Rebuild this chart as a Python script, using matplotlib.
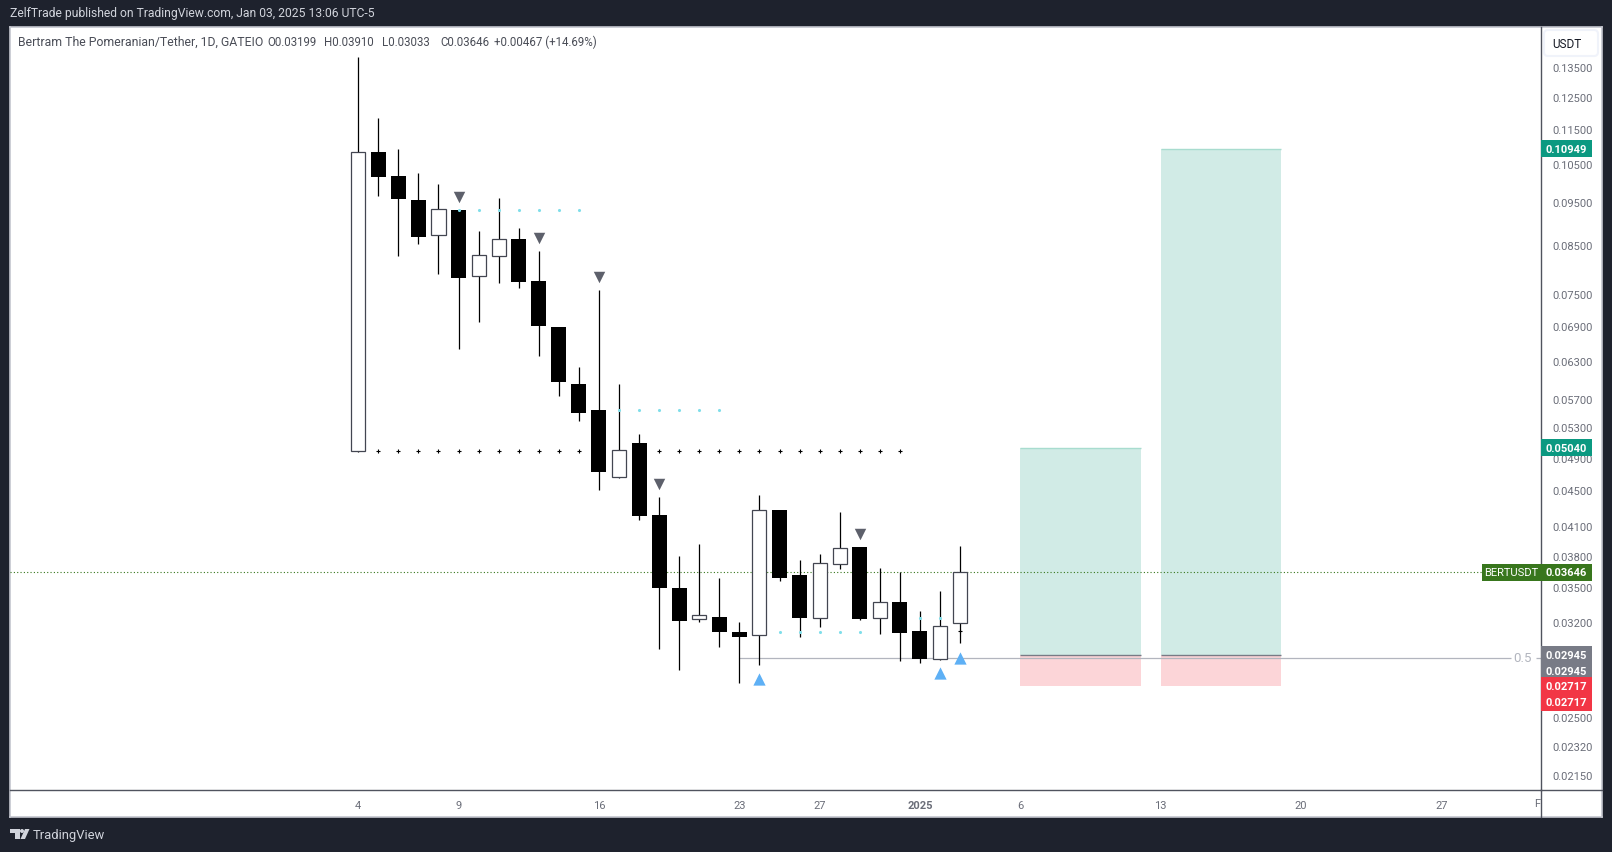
"""
plot.py - BERTUSDT daily candles with position boxes, TradingView style.
Output: out.png
"""
import matplotlib
matplotlib.use("Agg")
import matplotlib.pyplot as plt
from matplotlib.lines import Line2D
from matplotlib.patches import Circle, FancyBboxPatch, Polygon, Rectangle
from matplotlib.ticker import NullLocator
from matplotlib.transforms import IdentityTransform, ScaledTranslation

plt.rcParams.update({
    "font.family": ["Roboto", "DejaVu Sans"],
    "font.size": 8,
})

W, H = 1612, 853

# ── Candles, Dec 4 = day 0 ────────────────────────────────────────────────────
opens = [0.04997, 0.10857, 0.10201, 0.09585, 0.08753, 0.09340, 0.07870, 0.08289,
         0.08663, 0.07767, 0.06894, 0.05946, 0.05558, 0.04671, 0.05102, 0.04233,
         0.03502, 0.03232, 0.03249, 0.03125, 0.03100, 0.04288, 0.03623, 0.03240,
         0.03727, 0.03895, 0.03240, 0.03377, 0.03133, 0.02913, 0.03199]
highs = [0.13890, 0.11857, 0.10940, 0.10280, 0.09992, 0.09340, 0.08845, 0.09635,
         0.08914, 0.08398, 0.06894, 0.06215, 0.07589, 0.05946, 0.05222, 0.04435,
         0.03805, 0.03926, 0.03594, 0.03207, 0.04458, 0.04288, 0.03766, 0.03825,
         0.04266, 0.03895, 0.03689, 0.03651, 0.03299, 0.03475, 0.03910]
lows = [0.04984, 0.09685, 0.08290, 0.08551, 0.07911, 0.06512, 0.06984, 0.07727,
        0.07628, 0.06395, 0.05763, 0.05402, 0.04517, 0.04659, 0.04178, 0.02990,
        0.02831, 0.03207, 0.03005, 0.02737, 0.02868, 0.03567, 0.03084, 0.03165,
        0.03679, 0.03223, 0.03108, 0.02898, 0.02883, 0.02906, 0.03033]
closes = [0.10857, 0.10175, 0.09610, 0.08708, 0.09364, 0.07829, 0.08311, 0.08663,
          0.07747, 0.06912, 0.05977, 0.05515, 0.04732, 0.05010, 0.04222, 0.03502,
          0.03215, 0.03265, 0.03125, 0.03084, 0.04288, 0.03594, 0.03240, 0.03737,
          0.03885, 0.03232, 0.03377, 0.03116, 0.02913, 0.03174, 0.03646]

# ── Indicator marks ───────────────────────────────────────────────────────────
down_days = [5, 9, 12, 15, 25]
down_prices = [0.09660, 0.08685, 0.07850, 0.04587, 0.04029]
up_days = [20, 29, 30]
up_prices = [0.02766, 0.02809, 0.02921]

black_dot_days = list(range(1, 28)) + [30]
black_dot_prices = [0.04997] * 27 + [0.03133]
cyan_dot_days = [5, 6, 7, 8, 9, 10, 11, 13, 14, 15, 16, 17, 18, 21, 22, 23, 24, 25, 28, 29]
cyan_dot_prices = [0.09340] * 7 + [0.05558] * 6 + [0.03125] * 5 + [0.03240] * 2

# ── Position boxes ────────────────────────────────────────────────────────────
box_starts = [33, 40]
box_ends = [39, 46]
box_targets = [0.05040, 0.10949]
box_entry = 0.02945
box_stop = 0.02717
fib_start = 19
fib_price = 0.02921
last_price = 0.03646

# ── Axes labels ───────────────────────────────────────────────────────────────
price_ticks = [0.135, 0.125, 0.115, 0.105, 0.095, 0.085, 0.075, 0.069, 0.063, 0.057,
               0.053, 0.049, 0.045, 0.041, 0.038, 0.035, 0.032, 0.025, 0.0232, 0.0215]
date_ticks = [0, 5, 12, 19, 23, 28, 33, 40, 47, 54]
date_labels = ["4", "9", "16", "23", "27", "2025", "6", "13", "20", "27"]

legend_parts = ["Bertram The Pomeranian/Tether, 1D, GATEIO", "O0.03199", "H0.03910",
                "L0.03033", "C0.03646", "+0.00467 (+14.69%)"]
legend_x = [18, 267, 324, 382, 440, 494]
legend_sizes = [8.8, 8.3, 8.3, 8.3, 8.3, 8.3]

BG = "#1e222d"
WHITE_EDGE = "#434651"
AXIS_LINE = "#50535e"
TICK_TEXT = "#6a6d78"
GREEN = "#d1ebe6"
PINK = "#fcd5d8"

TOP = 28
PLOT_BOTTOM = 791
FRAME_BOTTOM = 818


def fx(px):
    return px / W


def fy(py):
    return 1 - py / H


def add_rect(fig, x0, y0, x1, y1, color, zorder=10):
    fig.add_artist(Rectangle((x0, H - y1), x1 - x0, y1 - y0, transform=IdentityTransform(),
                             facecolor=color, edgecolor="none", zorder=zorder))


fig = plt.figure(figsize=(W / 100, H / 100), dpi=100, facecolor=BG)

# white panel behind the chart and both scales
frame = fig.add_axes([fx(10), fy(FRAME_BOTTOM), fx(1592), (FRAME_BOTTOM - TOP) / H], zorder=0)
frame.set_xticks([])
frame.set_yticks([])
for s in frame.spines.values():
    s.set_color("#c4c6ce")
    s.set_linewidth(1.2)

ax = fig.add_axes([fx(10), fy(PLOT_BOTTOM), fx(1531), (PLOT_BOTTOM - TOP) / H], zorder=1)
ax.patch.set_alpha(0)
ax.set_yscale("log")
ax.set_xlim(-17.36, 58.96)
ax.set_ylim(0.020735, 0.15015)
ax.yaxis.tick_right()
ax.yaxis.set_minor_locator(NullLocator())
ax.set_yticks(price_ticks)
ax.set_yticklabels([f"{p:.5f}" for p in price_ticks])
ax.set_xticks(date_ticks)
ax.set_xticklabels(date_labels)
ax.tick_params(length=0, colors=TICK_TEXT, labelsize=8)
ax.tick_params(axis="y", pad=8)
ax.tick_params(axis="x", pad=7.5)
ax.get_xticklabels()[5].set_fontweight("bold")
# scale text sits a pixel above the price it marks
up_1px = ScaledTranslation(0, 1 / 100, fig.dpi_scale_trans)
for lab in ax.get_yticklabels():
    lab.set_transform(lab.get_transform() + up_1px)
for side in ("top", "left"):
    ax.spines[side].set_visible(False)
for side in ("right", "bottom"):
    ax.spines[side].set_color(AXIS_LINE)
    ax.spines[side].set_linewidth(1)

ax.text(58.75, -13.5 / 763, "F", transform=ax.get_xaxis_transform(), color=TICK_TEXT,
        ha="center", va="center", fontsize=8)

# position boxes
for start, end, target in zip(box_starts, box_ends, box_targets):
    ax.bar(start, target - box_entry, width=end - start, bottom=box_entry, align="edge",
           color=GREEN, zorder=1)
    ax.bar(start, box_entry - box_stop, width=end - start, bottom=box_stop, align="edge",
           color=PINK, zorder=1)
    ax.hlines(target, start, end, color="#a8dccf", lw=1, zorder=1.5)
    ax.hlines(box_entry, start, end, color="#787b86", lw=1, zorder=1.5)

ax.hlines(fib_price, fib_start, 57.45, color="#b2b5be", lw=0.9, zorder=1.6)
ax.hlines(fib_price, 58.7, 58.96, color="#b2b5be", lw=0.9, zorder=1.6)
ax.text(58.03, fib_price, "0.5", color="#b2b5be", ha="center", va="center", fontsize=9.5)

ax.axhline(last_price, color="#38761d", lw=0.8, ls=(0, (1, 2)), zorder=1.7)

# dots under the candles
ax.scatter(black_dot_days, black_dot_prices, marker="+", s=7, color="black", lw=0.8, zorder=2)

# candles
for i in range(len(opens)):
    o, h, l, c = opens[i], highs[i], lows[i], closes[i]
    ax.vlines(i, l, h, color="black", lw=0.9, zorder=3)
    if c >= o:
        ax.bar(i, c - o, width=0.7, bottom=o, color="white", edgecolor=WHITE_EDGE, lw=0.9, zorder=4)
    else:
        ax.bar(i, o - c, width=0.75, bottom=c, color="black", lw=0, zorder=4)

ax.scatter(cyan_dot_days, cyan_dot_prices, marker="o", s=5, color="#80deea", lw=0, zorder=5)
ax.scatter(down_days, down_prices, marker="v", s=68, color="#5d606b", lw=0, zorder=5)
ax.scatter(up_days, up_prices, marker="^", s=78, color="#5eb0f5", lw=0, zorder=5)


def py_of(price):
    return H - ax.transData.transform((0, price))[1]


# price tags on the scale
def price_tag(price, text, color, offset=0.0):
    cy = py_of(price) + offset
    add_rect(fig, 1541, cy - 8.5, 1592, cy + 8.5, color)
    fig.text(fx(1566.5), fy(cy), text, color="white", ha="center", va="center", fontsize=8,
             fontweight="bold", zorder=11)


price_tag(box_targets[1], "0.10949", "#0b9981")
price_tag(box_targets[0], "0.05040", "#0b9981")
price_tag(last_price, "0.03646", "#38761d")
add_rect(fig, 1482, py_of(last_price) - 8.5, 1541, py_of(last_price) + 8.5, "#38761d")
fig.text(fx(1511), fy(py_of(last_price)), "BERTUSDT", color="white", ha="center", va="center",
         fontsize=8, zorder=11)
price_tag(box_entry, "0.02945", "#787b86")
price_tag(box_entry, "0.02945", "#787b86", 16.5)
price_tag(box_stop, "0.02717", "#f23645")
price_tag(box_stop, "0.02717", "#f23645", 16.5)

# horizontal scale line runs on under the price scale
fig.add_artist(Line2D([fx(1541), fx(1602)], [fy(PLOT_BOTTOM), fy(PLOT_BOTTOM)], color=AXIS_LINE, lw=1, zorder=5))
fig.add_artist(Line2D([fx(1541), fx(1541)], [fy(PLOT_BOTTOM), fy(FRAME_BOTTOM)], color=AXIS_LINE, lw=1, zorder=5))

# currency button
fig.add_artist(FancyBboxPatch((1546, H - 55), 50, 22, boxstyle="round,pad=2,rounding_size=4",
                              transform=IdentityTransform(), facecolor="white",
                              edgecolor="#f0f3fa", lw=1.5, zorder=6))
fig.text(fx(1567), fy(44.5), "USDT", color="#131722", ha="center", va="center", fontsize=8.5, zorder=7)

# header and legend
fig.text(fx(10), fy(13.5), "ZelfTrade published on TradingView.com, Jan 03, 2025 13:06 UTC-5",
         color="#d1d4dc", ha="left", va="center", fontsize=8.7)
for part, x, size in zip(legend_parts, legend_x, legend_sizes):
    fig.text(fx(x), fy(42), part, color="#4a4d57", ha="left", va="center", fontsize=size, zorder=7)

# footer logo
logo = "#d1d4dc"
fig.add_artist(Polygon([(10, H - 830), (19.5, H - 830), (19.5, H - 840), (14.5, H - 840),
                        (14.5, H - 834), (10, H - 834)], transform=IdentityTransform(),
                       facecolor=logo, edgecolor="none"))
fig.add_artist(Circle((22, H - 832), 2, transform=IdentityTransform(), facecolor=logo, edgecolor="none"))
fig.add_artist(Polygon([(25, H - 830), (29.5, H - 830), (25, H - 840), (20.5, H - 840)],
                       transform=IdentityTransform(), facecolor=logo, edgecolor="none"))
fig.text(fx(33), fy(836), "TradingView", color=logo, ha="left", va="center", fontsize=9.4)

fig.savefig("out.png", dpi=100, facecolor=BG)
plt.close(fig)
